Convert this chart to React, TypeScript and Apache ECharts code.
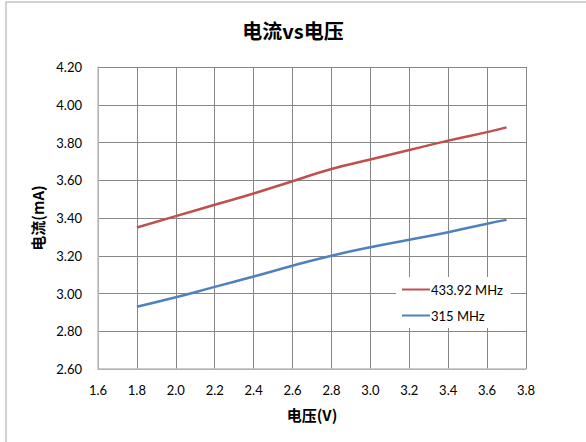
import React, { useEffect, useRef } from "react";
import * as echarts from "echarts";

const voltages = [1.8, 2.0, 2.2, 2.4, 2.6, 2.8, 3.0, 3.2, 3.4, 3.6, 3.7];
const current433 = [3.35, 3.41, 3.47, 3.53, 3.595, 3.66, 3.71, 3.76, 3.81, 3.855, 3.88];
const current315 = [2.93, 2.98, 3.035, 3.09, 3.147, 3.2, 3.245, 3.285, 3.325, 3.37, 3.39];
const seriesNames = ["433.92 MHz", "315 MHz"];
const colors = ["#C0504D", "#4F81BD"];

const FONT = "Lato, 'Noto Sans CJK SC', sans-serif";
const CJK = "'Noto Sans CJK SC', sans-serif";

export default function App() {
  const ref = useRef<HTMLDivElement>(null);
  useEffect(() => {
    const chart = echarts.init(ref.current!, undefined, { renderer: "svg" });
    chart.setOption({
      animation: false,
      backgroundColor: "#ffffff",
      title: {
        text: "电流vs电压",
        left: "center",
        top: 15,
        textStyle: { fontFamily: CJK, fontSize: 20, fontWeight: "bold", color: "#000" },
      },
      graphic: [
        {
          type: "rect",
          shape: { x: 6, y: 2, width: 590, height: 460 },
          style: { fill: "none", stroke: "#A6A6A6", lineWidth: 1 },
          silent: true,
        },
      ],
      grid: { left: 98, right: 60, top: 67, bottom: 73 },
      legend: {
        data: seriesNames,
        orient: "vertical",
        left: 396,
        top: 277,
        itemWidth: 28,
        itemHeight: 2,
        itemGap: 13,
        padding: [6, 8, 6, 6],
        backgroundColor: "#ffffff",
        icon: "rect",
        textStyle: { fontFamily: FONT, fontSize: 13, color: "#000", padding: [0, 0, 0, -4] },
      },
      xAxis: {
        type: "value",
        min: 1.6,
        max: 3.8,
        interval: 0.2,
        name: "电压(V)",
        nameLocation: "middle",
        nameGap: 38,
        nameTextStyle: { fontFamily: CJK, fontSize: 15, fontWeight: "bold", color: "#000" },
        axisLine: { show: true, lineStyle: { color: "#BFBFBF", width: 1.5 } },
        axisTick: { show: false },
        axisLabel: {
          fontFamily: FONT,
          fontSize: 13,
          color: "#000",
          margin: 14,
          formatter: (v: number) => v.toFixed(1),
        },
        splitLine: { show: true, lineStyle: { color: "#868686", width: 1 } },
      },
      yAxis: {
        type: "value",
        min: 2.6,
        max: 4.2,
        interval: 0.2,
        name: "电流(mA)",
        nameLocation: "middle",
        nameGap: 53,
        nameTextStyle: { fontFamily: CJK, fontSize: 15, fontWeight: "bold", color: "#000" },
        axisLine: { show: true, lineStyle: { color: "#BFBFBF", width: 1.5 } },
        axisTick: { show: false },
        axisLabel: {
          fontFamily: FONT,
          fontSize: 13,
          color: "#000",
          margin: 16,
          formatter: (v: number) => v.toFixed(2),
        },
        splitLine: { show: true, lineStyle: { color: "#868686", width: 1 } },
      },
      series: [
        {
          name: seriesNames[0],
          type: "line",
          smooth: true,
          showSymbol: false,
          data: voltages.map((v, i) => [v, current433[i]]),
          lineStyle: { color: colors[0], width: 2.5 },
          itemStyle: { color: colors[0] },
        },
        {
          name: seriesNames[1],
          type: "line",
          smooth: true,
          showSymbol: false,
          data: voltages.map((v, i) => [v, current315[i]]),
          lineStyle: { color: colors[1], width: 2.5 },
          itemStyle: { color: colors[1] },
        },
      ],
    });
    return () => chart.dispose();
  }, []);
  return <div ref={ref} style={{ width: 586, height: 442, position: "absolute", left: 0, top: 0 }} />;
}
